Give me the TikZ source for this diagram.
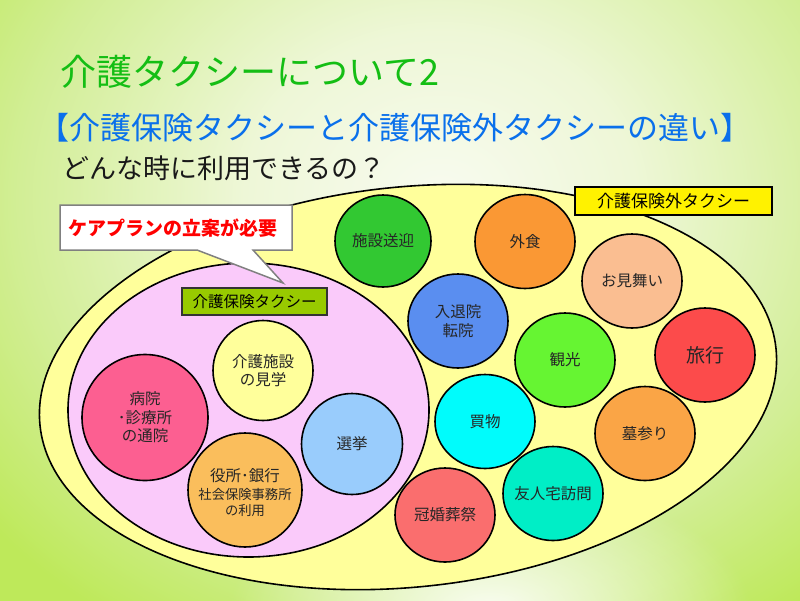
\documentclass[tikz,border=0pt]{standalone}
\usepackage{fontspec}
\setmainfont{Noto Sans CJK JP}
\usetikzlibrary{shapes.geometric,fadings}
\tikzfading[name=softblob, inner color=transparent!10, outer color=transparent!100]
\definecolor{bgA}{RGB}{248,251,240}
\definecolor{bgB}{RGB}{238,247,215}
\definecolor{bgC}{RGB}{210,238,150}
\definecolor{bgD}{RGB}{190,233,90}
\pgfdeclareradialshading{bgshade}{\pgfpoint{0bp}{0bp}}{color(0bp)=(bgA); color(7bp)=(bgB); color(15bp)=(bgC); color(21bp)=(bgD); color(50bp)=(bgD)}
\definecolor{titlegreen}{RGB}{20,190,20}
\definecolor{subblue}{RGB}{10,112,235}
\definecolor{outeryellow}{RGB}{255,255,155}
\definecolor{innerpink}{RGB}{250,202,250}
\definecolor{cShisetsu}{RGB}{50,200,50}
\definecolor{cGaishoku}{RGB}{250,152,52}
\definecolor{cOmimai}{RGB}{250,190,145}
\definecolor{cNyutai}{RGB}{90,142,240}
\definecolor{cKanko}{RGB}{102,245,50}
\definecolor{cRyoko}{RGB}{252,75,75}
\definecolor{cKaimono}{RGB}{0,252,252}
\definecolor{cHaka}{RGB}{250,165,70}
\definecolor{cYujin}{RGB}{0,238,198}
\definecolor{cKankon}{RGB}{250,110,110}
\definecolor{cKengaku}{RGB}{255,255,155}
\definecolor{cByoin}{RGB}{252,95,145}
\definecolor{cYakusho}{RGB}{250,190,92}
\definecolor{cSenkyo}{RGB}{153,204,252}
\definecolor{labgreen}{RGB}{152,202,0}
\begin{document}
\begin{tikzpicture}[x=1pt,y=-1pt,
  bub/.style={ellipse, draw=black, line width=1.6pt, minimum width=100pt, minimum height=94pt, inner sep=0pt},
  rnd/.style={circle, draw=black, line width=1.6pt, inner sep=0pt},
  txt/.style={font=\fontsize{15.5}{18.5}\selectfont, text=black!85, align=center, inner sep=0pt},
  tag/.style={draw=black!80, line width=1.6pt, inner sep=0pt, text=black},
]
\useasboundingbox (0,0) rectangle (800,600);
% background
\begin{scope}
  \clip (0,0) rectangle (800,600);
  \shade[shading=bgshade] (440,200) ellipse [x radius=700, y radius=600];
  \fill[white, path fading=softblob] (490,610) ellipse [x radius=260, y radius=130];
\end{scope}
% titles
\node[anchor=west, inner sep=0pt, text=titlegreen, font=\fontsize{36}{41}\selectfont] (title) at (60,72) {介護タクシーについて2};
\node[anchor=west, inner sep=0pt, text=subblue, font=\fontsize{31}{36}\selectfont] (subtitle) at (38,128) {【介護保険タクシーと介護保険外タクシーの違い】};
\node[anchor=west, inner sep=0pt, text=black!90, font=\fontsize{27}{32}\selectfont] (question) at (62,168) {どんな時に利用できるの？};
% outer ellipse
\draw[line width=1.6pt, fill=outeryellow, rotate around={6:(408,387)}] (408,387) ellipse [x radius=370, y radius=200];
% inner ellipse
\draw[line width=1.6pt, fill=innerpink] (248.5,410) ellipse [x radius=180.5, y radius=147];
% outside-insurance bubbles
\node[bub, fill=cShisetsu, minimum width=96pt, minimum height=92pt] (shisetsu) at (383,241) {};
\node[txt] (shisetsu-t) at (shisetsu) {施設送迎};
\node[bub, fill=cGaishoku] (gaishoku) at (525,241.5) {};
\node[txt] (gaishoku-t) at (gaishoku) {外食};
\node[bub, fill=cOmimai] (omimai) at (632,281) {};
\node[txt] (omimai-t) at (omimai) {お見舞い};
\node[bub, fill=cNyutai] (nyutai) at (458,321) {};
\node[txt] (nyutai-t) at (nyutai) {入退院\\転院};
\node[bub, fill=cKanko] (kanko) at (565,360) {};
\node[txt] (kanko-t) at (kanko) {観光};
\node[bub, fill=cRyoko] (ryoko) at (705,355) {};
\node[txt, font=\fontsize{19}{22}\selectfont] (ryoko-t) at (ryoko) {旅行};
\node[bub, fill=cKaimono] (kaimono) at (485,421.5) {};
\node[txt] (kaimono-t) at (kaimono) {買物};
\node[bub, fill=cHaka] (haka) at (645,433.5) {};
\node[txt] (haka-t) at (haka) {墓参り};
\node[bub, fill=cYujin] (yujin) at (553,493.5) {};
\node[txt] (yujin-t) at (yujin) {友人宅訪問};
\node[bub, fill=cKankon] (kankon) at (445,515) {};
\node[txt] (kankon-t) at (kankon) {冠婚葬祭};
% insurance bubbles
\node[rnd, fill=cKengaku, minimum size=100pt] (kengaku) at (263,370.5) {};
\node[txt] (kengaku-t) at (kengaku) {介護施設\\の見学};
\node[rnd, fill=cByoin, minimum size=126pt] (byoin) at (145,417.5) {};
\node[txt] (byoin-t) at (byoin) {病院\\･診療所\\の通院};
\node[rnd, fill=cYakusho, minimum size=114pt] (yakusho) at (245,490) {};
\node[txt, align=center] (yakusho-t) at (245,493) {役所･銀行\\[-1pt]{\fontsize{13.3}{16}\selectfont 社会保険事務所}\\[-2pt]{\fontsize{13.3}{16}\selectfont の利用}};
\node[rnd, fill=cSenkyo, minimum size=101pt] (senkyo) at (352,444) {};
\node[txt] (senkyo-t) at (senkyo) {選挙};
% labels
\node[tag, fill=labgreen, minimum width=145pt, minimum height=27pt, font=\fontsize{15.5}{18}\selectfont] (hokenlabel) at (254.5,301.5) {介護保険タクシー};
\node[tag, draw=black, fill=yellow, minimum width=197pt, minimum height=28pt, font=\fontsize{17}{20}\selectfont] (gailabel) at (673.5,201) {介護保険外タクシー};
% callout
\draw[line width=1.5pt, draw=black!50, fill=white] (60,205) -- (292,205) -- (292,250) -- (253,250) -- (283,283) -- (197,250) -- (60,250) -- cycle;
\node[inner sep=0pt, text=red, font=\bfseries\fontsize{19}{22}\selectfont] (careplan) at (172.5,228) {ケアプランの立案が必要};
\end{tikzpicture}
\end{document}
